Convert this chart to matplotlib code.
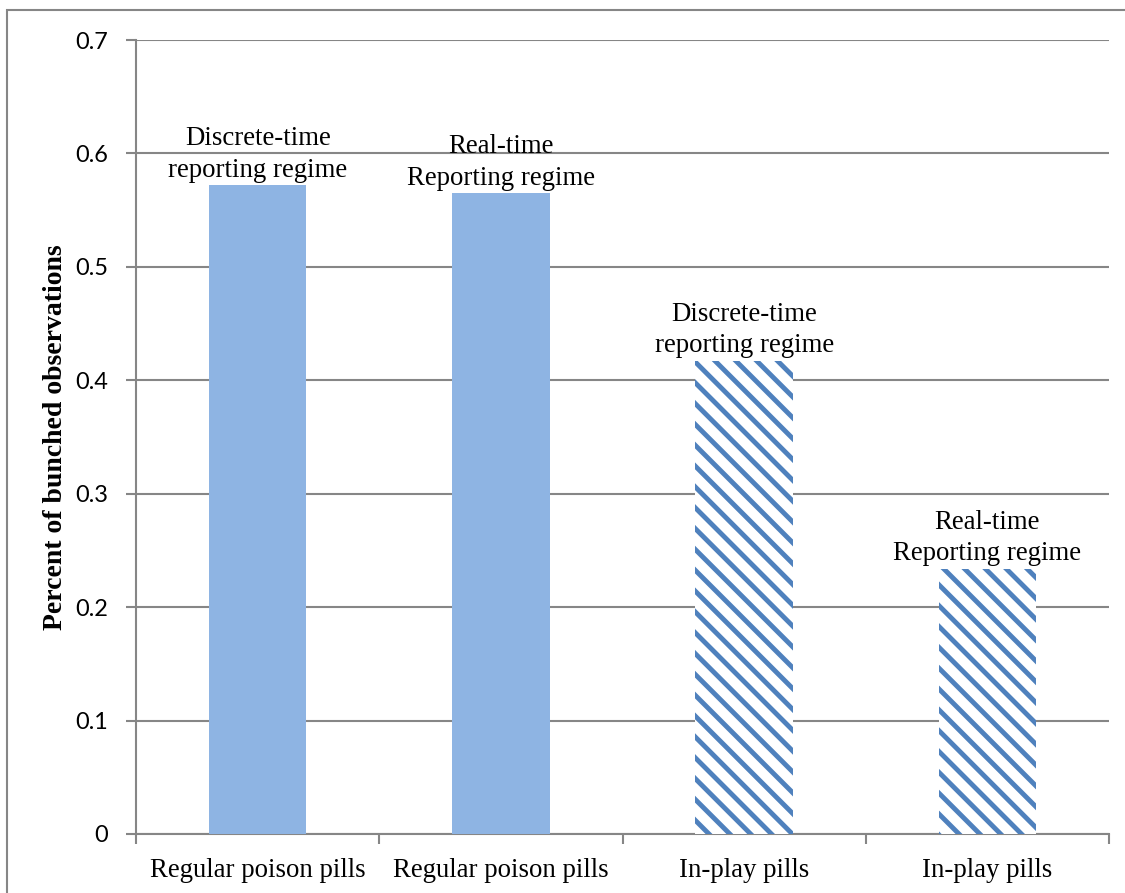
import matplotlib
matplotlib.use("Agg")
import matplotlib.pyplot as plt
from matplotlib.patches import Rectangle

categories = ["Regular poison pills", "Regular poison pills", "In-play pills", "In-play pills"]
values = [0.572, 0.565, 0.417, 0.234]
annotations = ["Discrete-time\nreporting regime", "Real-time\nReporting regime",
               "Discrete-time\nreporting regime", "Real-time\nReporting regime"]
hatched = [False, False, True, True]
yticks = [0, 0.1, 0.2, 0.3, 0.4, 0.5, 0.6, 0.7]
ytick_labels = ["0", "0.1", "0.2", "0.3", "0.4", "0.5", "0.6", "0.7"]
ylabel = "Percent of bunched observations"

DPI = 125
W, H = 1125, 893
fig = plt.figure(figsize=(W / DPI, H / DPI), dpi=DPI)
ax = fig.add_axes([136 / W, 1 - 834 / H, (1109 - 136) / W, (834 - 40) / H])

grid_color = "#868686"
solid_color = "#8EB4E3"
hatch_color = "#4F81BD"
plt.rcParams["hatch.linewidth"] = 2.8

x = list(range(len(categories)))
for xi, v, h in zip(x, values, hatched):
    if h:
        ax.bar(xi, v, width=0.4, color="white", edgecolor=hatch_color, hatch="\\\\", linewidth=0, zorder=3)
    else:
        ax.bar(xi, v, width=0.4, color=solid_color, linewidth=0, zorder=3)

for xi, v, t in zip(x, values, annotations):
    ax.annotate(t, (xi, v), xytext=(0, 1.5), textcoords="offset points", ha="center", va="bottom",
                fontsize=15.4, family="Liberation Serif", linespacing=1.33, zorder=4)

ax.set_xlim(-0.5, 3.5)
ax.set_ylim(0, 0.7)
ax.set_yticks(yticks)
ax.set_yticklabels(ytick_labels, family="Lato", fontsize=13.5)
ax.set_xticks(x)
ax.set_xticklabels(categories, family="Liberation Serif", fontsize=15.4)
ax.set_xticks([-0.5, 0.5, 1.5, 2.5, 3.5], minor=True)
ax.tick_params(axis="x", which="major", length=0, pad=14)
ax.tick_params(axis="x", which="minor", length=6, width=1.2, color=grid_color, direction="out")
ax.tick_params(axis="y", which="major", length=6, width=1.2, color=grid_color, direction="out", pad=10)

ax.yaxis.grid(True, color=grid_color, linewidth=1.2, zorder=0)
ax.set_axisbelow(True)
for s in ["top", "right"]:
    ax.spines[s].set_visible(False)
for s in ["left", "bottom"]:
    ax.spines[s].set_color(grid_color)
    ax.spines[s].set_linewidth(1.2)

ax.set_ylabel(ylabel, family="Liberation Serif", fontweight="bold", fontsize=16, labelpad=4)

fig.patches.append(Rectangle((7 / W, -0.05), 1.1, 1 - 10 / H + 0.05, transform=fig.transFigure,
                             fill=False, edgecolor=grid_color, linewidth=1.2))

fig.savefig("out.png", dpi=DPI)
